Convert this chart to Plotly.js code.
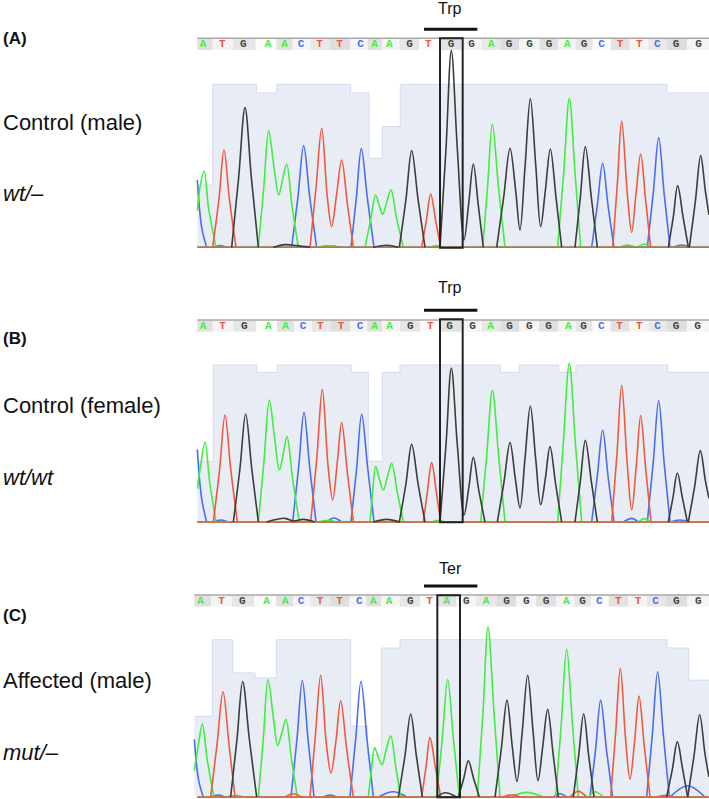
<!DOCTYPE html>
<html><head><meta charset="utf-8">
<script src="https://cdn.plot.ly/plotly-3.0.1.min.js"></script>
<style>html,body{margin:0;padding:0;background:#fff}#c{width:709px;height:799px}</style>
</head><body><div id="c"></div>
<script>
// Units: trace position (x) and signal height (y).
const aGreenX=[22,30,42,56,78,null,205,221,236,252,266,278,290,306,325,null,525,541,557,568,578,590,603,620,640,null,878,893,907,925,945,null,1103,1121,1138,1155,1172,null,385,410,440,null,720,740,760,null,1290,1312,1330,1345,1362,1385,null,22,1557];
const aGreenY=[110,180,229,115,0,null,0,175,350,240,157,205,249,125,0,null,0,78,157,125,99,135,172,86,0,null,0,185,370,185,0,null,0,223,447,223,0,null,0,5,0,null,0,5,0,null,0,7,2,2,10,0,null,0,0];
const aRedX=[68,87,102,118,138,null,360,378,395,412,425,440,455,472,490,null,695,709,722,737,752,null,1268,1282,1295,1312,1325,1338,1352,1367,1382,null,22,1557];
const aRedY=[0,146,292,146,0,null,0,178,357,150,62,160,262,131,0,null,0,80,160,80,0,null,0,190,379,160,45,160,280,140,0,null,0,0];
const aBlueX=[22,35,50,null,305,324,341,359,380,null,483,499,514,532,552,null,1205,1222,1238,1254,1272,null,1372,1390,1406,1422,1440,null,70,90,110,null,400,430,450,null,1290,1315,1335,null,1450,1475,1500,null,22,1557];
const aBlueY=[202,60,0,null,0,152,305,152,0,null,0,148,296,148,0,null,0,126,252,126,0,null,0,165,329,165,0,null,0,5,0,null,0,4,0,null,0,5,0,null,0,7,0,null,0,0];
const aBlackX=[125,146,165,184,205,null,628,648,665,684,705,null,750,768,784,802,822,836,850,865,880,null,920,941,960,977,990,1005,1021,1037,1052,1066,1081,1098,1115,null,1155,1171,1186,1204,1222,null,1435,1450,1463,1479,1495,null,1498,1516,1532,1546,1557,null,250,285,320,360,null,550,590,625];
const aBlackY=[0,210,419,210,0,null,0,145,290,145,0,null,0,295,590,295,22,130,250,125,0,null,0,150,297,170,52,240,446,250,62,170,295,150,0,null,0,150,302,150,0,null,0,92,185,92,0,null,0,137,275,170,97,null,0,8,5,0,null,0,6,0];

const bGreenX=[22,32,45,59,78,null,205,222,238,254,268,280,291,308,328,null,540,548,557,569,580,592,605,622,640,null,872,890,907,926,945,null,1103,1120,1138,1156,1175,null,1345,1363,1380,null,385,415,440,null,725,745,765,null,22,1557];
const bGreenY=[100,170,240,120,0,null,0,183,366,250,156,205,256,128,0,null,0,90,166,125,96,135,176,88,0,null,0,197,394,197,0,null,0,238,476,238,0,null,0,10,0,null,0,5,0,null,0,5,0,null,0,0];
const bRedX=[70,89,105,122,142,null,362,381,397,414,428,442,455,472,490,null,700,712,725,739,752,null,1265,1281,1295,1312,1325,1339,1352,1367,1383,null,22,1557];
const bRedY=[0,160,321,160,0,null,0,199,398,170,66,180,298,149,0,null,0,89,178,89,0,null,0,205,410,170,36,170,319,160,0,null,0,0];
const bBlueX=[22,35,50,null,308,326,342,359,378,null,483,500,515,533,552,null,1205,1222,1238,1254,1272,null,1372,1390,1406,1422,1440,null,70,92,115,null,410,432,455,null,1300,1325,1345,null,1440,1470,1500,null,22,1557];
const bBlueY=[218,70,0,null,0,164,329,164,0,null,0,162,324,162,0,null,0,138,276,138,0,null,0,182,364,182,0,null,0,6,0,null,0,12,0,null,0,11,0,null,0,6,0,null,0,0];
const bBlackX=[130,150,167,185,205,null,628,648,665,684,705,null,750,768,784,802,822,836,850,866,885,null,922,942,960,976,990,1005,1021,1037,1052,1066,1080,1097,1115,null,1155,1171,1186,1204,1222,null,1435,1449,1462,1477,1492,null,1495,1514,1531,1546,1557,null,230,285,310,340,375,null,550,590,630];
const bBlackY=[0,162,324,162,0,null,0,116,233,116,0,null,0,231,462,231,21,100,194,97,0,null,0,120,238,130,42,190,348,190,52,130,226,113,0,null,0,122,245,122,0,null,0,74,147,74,0,null,0,107,214,125,71,null,0,11,3,8,0,null,0,8,0];

const cGreenX=[13,24,37,52,72,null,205,220,234,250,263,276,288,304,322,null,535,544,554,565,576,588,602,617,632,null,740,757,773,790,808,null,862,879,894,912,930,null,1097,1114,1130,1147,1165,null,960,1010,1060,null,1195,1215,1240,null,110,140,160,null,22,1557];
const cGreenY=[80,150,219,110,0,null,0,177,354,240,156,195,234,117,0,null,0,80,148,120,97,140,184,92,0,null,0,177,354,177,0,null,0,255,511,255,0,null,0,223,446,223,0,null,0,14,0,null,0,16,0,null,0,5,0,null,0,0];
const cRedX=[62,81,99,117,135,null,360,376,392,409,423,438,452,470,490,null,695,708,720,736,752,null,1262,1277,1291,1307,1320,1334,1347,1363,1380,null,285,310,335,null,1140,1165,1190,null,940,965,990,null,1400,1425,1450,null,22,1557];
const cRedY=[0,158,317,158,0,null,0,183,367,160,72,170,290,145,0,null,0,90,179,90,0,null,0,194,388,170,54,170,304,152,0,null,0,10,0,null,0,17,0,null,0,7,0,null,0,5,0,null,0,0];
const cBlueX=[13,26,40,null,303,321,337,354,372,null,480,497,513,531,550,null,1200,1217,1232,1249,1268,null,1370,1387,1403,1420,1438,null,565,610,650,null,1440,1493,1545,null,60,85,105,null,400,420,440,null,1090,1110,1130,null,22,1557];
const cBlueY=[174,50,0,null,0,175,351,175,0,null,0,174,349,174,0,null,0,146,292,146,0,null,0,188,377,188,0,null,0,16,0,null,0,34,0,null,0,6,0,null,0,6,0,null,0,10,0,null,0,0];
const cBlackX=[122,141,158,178,200,null,625,645,662,679,697,null,740,766,800,null,805,821,835,851,868,null,915,934,951,967,981,997,1013,1029,1044,1058,1073,1089,1105,null,1150,1166,1181,1196,1212,null,1430,1447,1462,1478,1493,null,1493,1512,1529,1545,1557];
const cBlackY=[0,174,348,174,0,null,0,125,250,125,0,null,0,13,0,null,0,55,109,55,0,null,0,146,292,150,47,200,367,200,49,150,264,132,0,null,0,125,251,125,0,null,0,83,166,83,0,null,0,124,248,130,60];

const baseCalls=["ATGAACTTCAAGTGGAGGGAGCTTCGG","ATGAACTTCAAGTGGAGGGAGCTTCGG","ATGAACTTCAAGTAGAGGGAGCTTCGG"];
const aCallX=[39,97,160,234,284,333,389,449,512,554,598,659,715,783,845,904,957,1019,1077,1132,1182,1235,1290,1348,1402,1458,1526];
const bCallX=[39,98,163,235,287,339,391,453,510,554,599,661,721,779,848,902,959,1018,1076,1135,1181,1234,1289,1348,1403,1458,1523];
const cCallX=[32,95,157,230,286,333,390,449,508,550,597,661,719,770,829,888,950,1009,1068,1129,1178,1228,1285,1344,1397,1459,1525];

const aQualX=[22,68,200,260,482,537,577,631,1431,1557];
const aQualY=[187,489,463,489,463,267,362,489,463,463];
const bQualX=[22,70,200,262,485,535,577,630,931,988,1106,1158,1433,1557];
const bQualY=[182,471,449,471,449,182,449,471,449,471,449,471,449,449];
const cQualX=[13,67,128,195,259,482,532,574,630,1431,1496,1557];
const cQualY=[243,474,374,359,474,214,127,449,474,449,352,352];

const panelTops=[20,300,570], panelBases=[247.3,522,798];
const stripHeights=[[592,627],[571,606],[574,609]];
const stripShades=["#e0e0e0","#f4f4f4","#e6e6e6","#fbfbfb","#e2e2e2","#f5f5f5","#e8e8e8","#dedede","#f5f5f5"];
const boxX=[[750,818],[750,818],[742,810]], boxY=[[-1,627],[-1,608],[-1,608]];
const codonX=[[702,862],[702,862],[702,862]], codonY=[654,635,636];
const codonNames=["Trp","Trp","Ter"];
const panelLetters=["(A)","(B)","(C)"];
const sampleNames=["Control (male)","Control (female)","Affected (male)"];
const genotypes=["wt/–","wt/wt","mut/–"];
const letterY=[39,338,615], sampleY=[123,405,680], genoY=[193,477,752], codonTextY=[8,288,568];

const colours={A:"#3fee3f",T:"#f2583f",G:"#444444",C:"#4a6ef0"};
const px=(p)=>p/709, py=(p)=>1-p/799;
const W=709,H=799,X0=190;
const channels=[
 [[aBlueX,aBlueY,colours.C],[aGreenX,aGreenY,colours.A],[aRedX,aRedY,colours.T],[aBlackX,aBlackY,"#3c3c3c"]],
 [[bBlueX,bBlueY,colours.C],[bGreenX,bGreenY,colours.A],[bRedX,bRedY,colours.T],[bBlackX,bBlackY,"#3c3c3c"]],
 [[cBlueX,cBlueY,colours.C],[cGreenX,cGreenY,colours.A],[cRedX,cRedY,colours.T],[cBlackX,cBlackY,"#3c3c3c"]]];
const quals=[[aQualX,aQualY],[bQualX,bQualY],[cQualX,cQualY]];
const calls=[aCallX,bCallX,cCallX];
const textY=[609,588,590];
const traces=[], shapes=[], annotations=[];
const layout={width:W,height:H,margin:{l:0,r:0,t:0,b:0},showlegend:false,paper_bgcolor:"#fff",plot_bgcolor:"rgba(0,0,0,0)"};
for(let i=0;i<3;i++){
  const n=i===0?"":String(i+1);
  const xa="x"+n, ya="y"+n;
  const top=panelTops[i], bot=panelBases[i]+2;
  const yMax=(panelBases[i]-top)*3;
  layout["xaxis"+n]={domain:[X0/W,1],range:[0,(W-X0)*3],visible:false,fixedrange:true,anchor:ya};
  layout["yaxis"+n]={domain:[py(bot),py(top)],range:[-6,yMax],visible:false,fixedrange:true,anchor:xa};
  const [qx,qy]=quals[i];
  traces.push({x:qx,y:qy,xaxis:xa,yaxis:ya,mode:"lines",line:{shape:"hv",color:"#d3dcf0",width:1},fill:"tozeroy",fillcolor:"#e8ecf5",hoverinfo:"skip"});
  for(const [x,y,c] of channels[i]){
    traces.push({x:x,y:y,xaxis:xa,yaxis:ya,mode:"lines",connectgaps:false,line:{shape:"spline",smoothing:1,color:c,width:1.6},hoverinfo:"skip"});
  }
  const seq=baseCalls[i].split("");
  traces.push({x:calls[i],y:seq.map(()=>textY[i]),text:seq,xaxis:xa,yaxis:ya,mode:"text",textposition:"middle center",
    textfont:{family:"Liberation Mono",size:11,weight:700,color:seq.map(s=>colours[s])},hoverinfo:"skip"});
  // base-call strip
  const cx=calls[i], [s0,s1]=stripHeights[i];
  cx.forEach((v,k)=>{
    const l=k===0?(i===2?13:22):(cx[k-1]+v)/2, r=k===cx.length-1?1557:(v+cx[k+1])/2;
    shapes.push({type:"rect",xref:xa,yref:ya,x0:l,x1:r,y0:s0,y1:s1,fillcolor:stripShades[k%stripShades.length],line:{width:0},layer:"below"});
  });
  shapes.push({type:"line",xref:xa,yref:ya,x0:i===2?13:22,x1:1557,y0:s1,y1:s1,line:{color:"#a8a8a8",width:1.5},layer:"below"});
  // codon box and bar
  shapes.push({type:"rect",xref:xa,yref:ya,x0:boxX[i][0],x1:boxX[i][1],y0:boxY[i][0],y1:boxY[i][1],line:{color:"#222",width:2}});
  shapes.push({type:"line",xref:xa,yref:ya,x0:codonX[i][0],x1:codonX[i][1],y0:codonY[i],y1:codonY[i],line:{color:"#111",width:3}});
  annotations.push({xref:"paper",yref:"paper",x:px(450),y:py(codonTextY[i]),text:codonNames[i],showarrow:false,xanchor:"center",yanchor:"middle",font:{family:"Liberation Sans",size:16,color:"#111"}});
  annotations.push({xref:"paper",yref:"paper",x:px(1),y:py(letterY[i]),text:"<b>"+panelLetters[i]+"</b>",showarrow:false,xanchor:"left",yanchor:"middle",font:{family:"Liberation Sans",size:17,color:"#111"}});
  annotations.push({xref:"paper",yref:"paper",x:px(1),y:py(sampleY[i]),text:sampleNames[i],showarrow:false,xanchor:"left",yanchor:"middle",font:{family:"Liberation Sans",size:22,color:"#111"}});
  annotations.push({xref:"paper",yref:"paper",x:px(1),y:py(genoY[i]),text:"<i>"+genotypes[i]+"</i>",showarrow:false,xanchor:"left",yanchor:"middle",font:{family:"Liberation Sans",size:22,color:"#111"}});
}
layout.shapes=shapes; layout.annotations=annotations;
Plotly.newPlot("c",traces,layout,{displayModeBar:false,staticPlot:true});
</script></body></html>
